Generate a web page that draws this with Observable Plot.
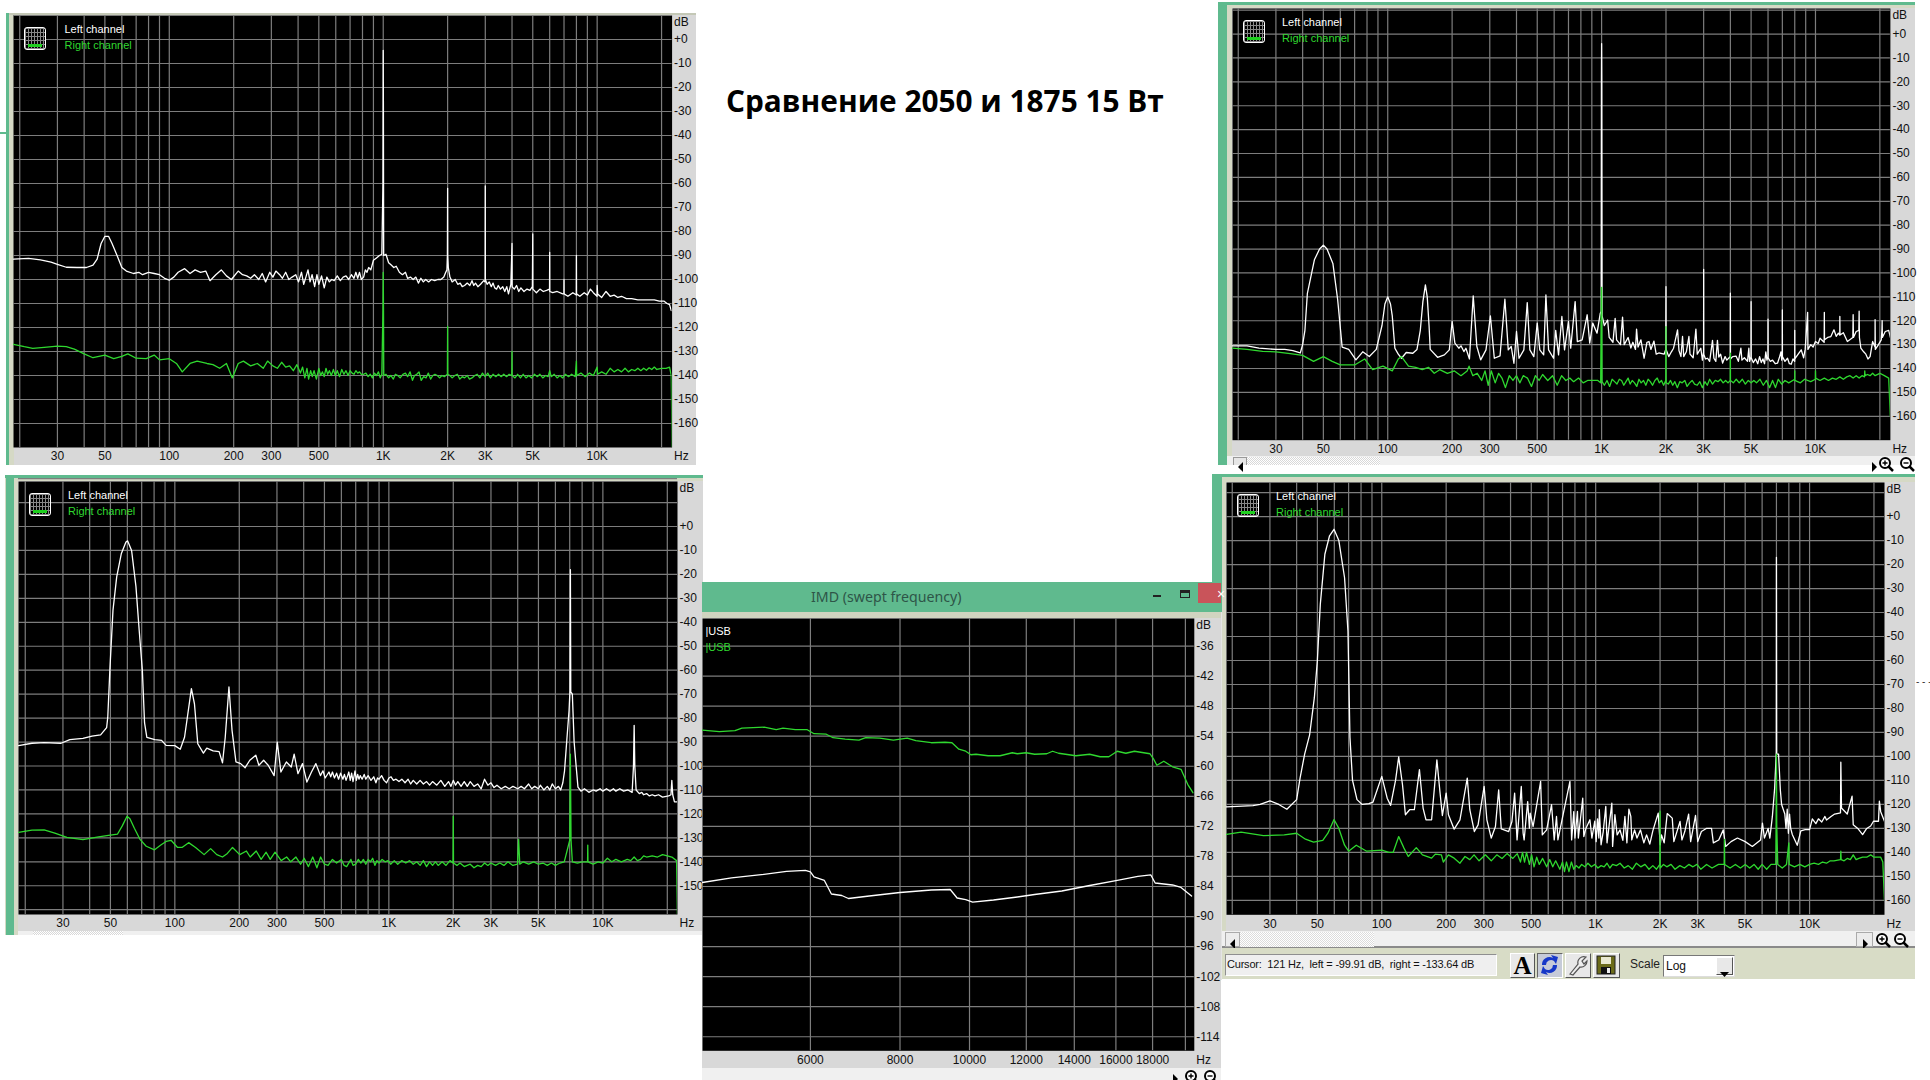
<!DOCTYPE html>
<html lang="ru">
<head>
<meta charset="utf-8">
<script src="https://cdn.jsdelivr.net/npm/d3@7"></script>
<script src="https://cdn.jsdelivr.net/npm/@observablehq/plot@0.6"></script>
<style>
html,body{margin:0;padding:0;background:#fff;}
#page{position:relative;width:1930px;height:1080px;overflow:hidden;background:#fff;font-family:"Liberation Sans",Arial,sans-serif;}
#page>*{position:absolute;}
svg{overflow:visible;}
</style>
</head>
<body>
<div id="page"></div>
<script>
// Spectrum tick labels and grid
const freqTicks = [30,50,100,200,300,500,1000,2000,3000,5000,10000];
const freqGrid = [20,30,40,50,60,70,80,90,100,200,300,400,500,600,700,800,900,1000,2000,3000,4000,5000,6000,7000,8000,9000,10000,20000];
const imdFreqTicks = [6000,8000,10000,12000,14000,16000,18000];
const imdFreqGrid = [6000,8000,10000,12000,14000,16000,18000,20000];
const dbTicks = [0,-10,-20,-30,-40,-50,-60,-70,-80,-90,-100,-110,-120,-130,-140,-150,-160];
const dbTicksBL = [0,-10,-20,-30,-40,-50,-60,-70,-80,-90,-100,-110,-120,-130,-140,-150];
const dbGrid = [20,10,0,-10,-20,-30,-40,-50,-60,-70,-80,-90,-100,-110,-120,-130,-140,-150,-160];
const imdDbTicks = [-36,-42,-48,-54,-60,-66,-72,-78,-84,-90,-96,-102,-108,-114];

// Series: flat lists of frequency (Hz), level (dB)
const tlLeft = [18.7,-91.5,22,-91.2,25,-91.8,28,-92.8,30,-93.7,33,-94.9,37,-95,41,-95,44,-94,46,-91.5,48,-85,50,-82,52,-82,54,-85,57,-90,60,-95,63,-96.5,68,-97.5,72,-97,75,-98,80,-97,85,-97.5,90,-98,95,-99.5,100,-100.3,105,-99,110,-97,118,-95.5,125,-97.5,132,-96,140,-97,148,-96.5,155,-100.5,165,-98,175,-96,185,-98.5,195,-100,210,-96.5,220,-98,230,-98.5,240,-99.5,250,-98,262,-100,272,-97.5,282,-101,295,-97,305,-99,315,-96.5,328,-98,338,-99.5,350,-97,362,-100,375,-99,390,-98,402,-101,415,-97,425,-102,435,-99,445,-96,455,-101,465,-98,478,-103,490,-98,500,-102,515,-98.5,530,-103.5,545,-99,560,-101,575,-100,590,-100.5,610,-98.5,630,-100.5,650,-99,670,-98.5,690,-100,710,-98,730,-99.5,745,-97,760,-99.5,775,-97,790,-100,810,-99,825,-96,840,-97,855,-95,875,-96,900,-92,930,-91,960,-90,985,-89.5,997,-60,1000,-4.5,1002,-28,1005,-90,1030,-89.5,1060,-93,1090,-94,1120,-95,1150,-94.5,1190,-97,1230,-98,1270,-97,1300,-99.5,1340,-99,1380,-100,1420,-99,1460,-101.5,1500,-99.5,1540,-101,1580,-100,1630,-101,1680,-100,1740,-100.5,1800,-100,1860,-100,1920,-99,1960,-97,1985,-96,1995,-90,2000,-62,2002,-90,2015,-95,2050,-99,2100,-101,2170,-100,2230,-102,2290,-101.5,2340,-103,2400,-102.5,2470,-101.5,2540,-102.5,2600,-100.5,2650,-102.5,2700,-101.5,2770,-103,2850,-102,2950,-100.5,2995,-101,3000,-61,3002,-100,3060,-102,3130,-101,3200,-103,3260,-101.5,3320,-103.5,3390,-104,3450,-102.5,3530,-104,3620,-103,3700,-105,3780,-103,3850,-106,3950,-102,4000,-85,4005,-103,4100,-104,4200,-102.5,4300,-105,4400,-103.5,4550,-105,4700,-104,4850,-104.5,4980,-103,5000,-81,5005,-104,5200,-105.5,5400,-104,5600,-105,5800,-104.5,5990,-104,6000,-88.7,6005,-105,6200,-105.5,6500,-105,6900,-106,6995,-106,7000,-100,7005,-106,7300,-107,7700,-105.5,7990,-106.5,8000,-90,8010,-106,8300,-107,8700,-105.5,9000,-106.5,9300,-104,9600,-105.5,9990,-107,10000,-102.5,10050,-106,10500,-107.5,11000,-105,11500,-107,12000,-106.5,12500,-107.5,13000,-107,13700,-108,14500,-108,15500,-108.5,16500,-108.5,17500,-108.5,18500,-108.5,19500,-109,20500,-109,21200,-110,21800,-110.5,22200,-113];
const tlRight = [18.7,-127,21,-128,23,-128.7,26,-128.3,30,-127.8,33,-128,36,-129,40,-131,44,-132.6,50,-131.5,55,-133,60,-132,64,-131,70,-132.8,78,-133,85,-131.5,90,-133.5,100,-133,108,-135,115,-138.5,125,-135,135,-134,150,-135,160,-135.5,172,-137,185,-135,197,-141,210,-135,222,-134,240,-136,258,-135,275,-137,288,-134,305,-136,320,-137,335,-134.5,350,-136.5,365,-136,380,-138,395,-135.5,410,-139,420,-136.5,430,-141,440,-137,448,-141.5,458,-138,466,-140.5,475,-138,487,-141.5,500,-137,510,-140,520,-138.5,530,-140.5,540,-137,550,-139.5,560,-138,572,-140,585,-137.5,597,-140,610,-138,625,-140.5,640,-137.5,655,-139.5,670,-138,685,-140,700,-138,715,-139,730,-139.5,745,-138,760,-139,775,-138.5,790,-139.5,810,-139.5,830,-139,850,-140.5,870,-139.5,890,-141,910,-139,930,-140,950,-138.5,968,-141,985,-139.5,997,-113,1000,-97,1003,-113,1006,-140,1030,-139.5,1060,-141,1085,-140,1115,-141.5,1140,-139.5,1170,-140,1200,-141,1235,-139.5,1270,-139,1300,-140.5,1335,-138.5,1370,-142,1400,-140,1435,-139.5,1470,-138.5,1505,-142,1545,-140.5,1585,-141,1625,-139,1665,-141.5,1705,-140,1745,-139.5,1790,-140,1835,-141,1880,-140,1930,-140.5,1995,-139.5,2000,-119.5,2003,-139.5,2050,-140,2100,-141,2160,-140,2220,-139.5,2280,-141.5,2340,-140.5,2400,-141,2470,-140,2530,-141.5,2600,-141,2680,-140,2750,-139.5,2830,-141,2910,-139,2995,-140.5,3080,-139,3170,-141,3260,-139.5,3360,-140.5,3460,-139.5,3560,-140.5,3660,-139.5,3770,-140.5,3880,-139.5,3990,-140,4000,-130,4005,-140,4130,-141,4250,-139.5,4380,-141,4510,-139.5,4650,-141,4790,-140,4940,-141,5090,-139.5,5250,-140.5,5400,-139.5,5570,-141,5740,-140,5900,-140.5,6000,-138,6100,-140.5,6300,-139.5,6500,-141,6700,-140,6900,-141,7100,-139.5,7350,-140.5,7600,-139.5,7900,-140.5,8000,-134,8020,-140,8400,-139,8800,-140.5,9200,-139,9600,-140,10000,-136.5,10050,-139.5,10500,-138.5,11000,-139.5,11500,-137,12000,-138.5,12500,-137.5,13000,-138.5,13500,-137,14000,-138.5,14500,-137.5,15000,-138,15500,-137,16000,-138,16500,-137,17000,-137.8,17500,-136.8,18000,-137.5,18500,-136.5,19000,-137.5,20000,-137,21000,-137,21800,-136.5,22200,-140,22390,-170];

const trLeft = [18.8,-130.5,22,-130.5,25,-131.5,30,-132,33,-132,36,-132.5,39,-133.5,40,-130,41,-124,42.1,-108.5,45.4,-94.5,48,-90,50,-88.4,52,-90,55.4,-96,58.3,-111,61.2,-131,65.7,-132,71,-136.4,76.4,-133,82,-135,88.4,-132,94,-122,97,-113,100,-110,103,-113,105,-118,108,-131.5,112,-134,116,-135.7,122,-133.3,131,-133.6,137,-132,142,-124,146,-112,150,-105,153,-110,156,-122,158,-132,171,-135.3,184,-134.3,194,-132.2,200,-120.3,206,-129.4,215,-131.5,220,-130.5,227,-132.9,232,-131.5,241,-136,251,-109.6,261,-130.8,272,-136.4,288,-132.2,302,-118,315,-135.7,335,-134.7,353,-111,366,-132.2,378,-130.8,389,-137.8,400,-124.5,411,-135.7,433,-132.2,449,-112.4,462,-132.2,482,-135,500,-121,514,-132.2,536,-134.3,549,-109.2,565,-132.2,596,-135.7,610,-124,629,-134.3,652,-118.2,671,-132.2,700,-120.3,717,-131.5,752,-112,770,-128.7,811,-128,856,-117.5,880,-129.4,909,-121,952,-125.2,985,-117,995,-116,998,-20,1000,-4,1002,-20,1005,-118,1030,-122,1067,-119.7,1085,-127,1130,-129,1157,-119,1175,-128,1225,-130,1253,-118.5,1275,-130,1330,-127,1370,-131.4,1400,-129,1440,-132,1457,-123.5,1480,-131,1527,-128,1580,-135.7,1630,-129,1665,-128.7,1700,-132,1757,-128.5,1800,-134,1851,-133.5,1960,-134,1995,-132,2000,-105.7,2002,-132,2060,-135,2120,-133,2170,-131.5,2265,-123.8,2300,-132.5,2350,-135,2390,-126.6,2420,-135,2490,-133,2560,-126.6,2590,-134,2680,-135.5,2760,-123.5,2800,-134,2910,-131.5,2960,-136.5,2998,-133,3000,-98.5,3002,-134,3060,-136,3130,-135.7,3200,-137,3300,-128.2,3350,-135.7,3420,-137,3480,-128.2,3530,-135.2,3600,-134,3680,-137.7,3780,-135,3850,-136.5,3995,-135,4000,-108.5,4004,-136,4100,-135,4250,-134.8,4360,-137,4480,-131.5,4530,-136.5,4650,-135.5,4810,-137,4880,-131.5,4920,-137,4995,-135,5000,-112,5005,-135.5,5120,-137.5,5250,-136,5370,-138,5480,-135,5580,-137.5,5680,-136,5780,-138,5860,-133,5930,-136.5,5995,-135,6000,-119.3,6005,-135.5,6150,-137,6300,-136.5,6480,-138,6650,-137.7,6800,-135,6900,-133,6950,-136.5,6995,-135,7000,-115.5,7005,-135,7200,-137,7400,-135.7,7550,-138,7700,-138.2,7850,-136,7995,-137,8000,-124,8005,-136,8300,-134,8580,-132.2,8800,-135.5,8950,-132,9190,-116.5,9220,-132,9500,-130,9750,-131,10000,-128.7,10300,-129.5,10500,-127.3,10980,-129,11000,-116.5,11020,-128,11400,-127,11800,-126.6,12200,-123.8,12500,-126.5,12800,-125.2,12990,-126,13000,-118.2,13020,-126,13500,-125,14100,-128.7,14950,-127,15000,-117.5,15050,-127,15500,-124.5,15950,-124,16000,-116,16050,-127,16300,-131.5,16800,-133,17200,-134,17600,-136,18000,-135,18500,-128.7,18990,-131,19000,-119.5,19050,-132,19700,-130,20300,-128,20450,-124,20500,-120,20550,-127,21200,-124.5,22000,-124,22390,-127];
const trRight = [18.8,-131.5,22,-132,26,-132.8,30,-133,35,-133.8,40,-134.5,45,-137,50,-135,55,-137,60,-138.5,70,-138.5,78,-136,85,-140.5,95,-139,105,-141,112,-136,116,-135,125,-139,135,-139.5,145,-140.5,155,-139.5,165,-142,175,-140.5,190,-142,205,-141,220,-143,235,-141,240,-139,250,-143,262,-142,275,-145,285,-141,295,-147,305,-141,318,-146,330,-142,342,-144,355,-148,370,-143,385,-145,400,-143,415,-146,430,-143,450,-144,470,-147.5,490,-143,510,-145,530,-142.5,560,-145,590,-143,620,-147,650,-143,680,-145,710,-144,740,-145.5,780,-144,820,-146,860,-145,920,-145,960,-145,990,-146,995,-119,998,-106,1000,-106,1003,-119,1005,-145.5,1030,-147,1060,-145,1090,-147.5,1120,-144.5,1150,-145.5,1180,-146.5,1210,-144.5,1240,-145,1270,-147,1300,-145.5,1330,-144,1360,-146.5,1390,-145,1425,-146,1460,-147.5,1495,-144.5,1530,-146,1570,-145,1610,-147,1650,-144.5,1690,-145.5,1730,-147,1775,-145,1820,-144,1860,-146,1905,-145,1950,-147,1995,-145,2000,-122.5,2003,-146,2050,-146.5,2100,-145,2150,-147,2200,-145.5,2260,-148,2320,-145.5,2380,-146,2450,-145,2510,-147.5,2580,-146,2650,-145,2720,-146.5,2800,-147,2880,-145.5,2960,-148,3040,-145.5,3120,-147,3200,-144.5,3300,-146.5,3400,-145,3500,-145.5,3600,-144.5,3700,-146,3800,-145,3900,-146,3995,-145,4000,-133.6,4004,-145,4130,-146,4260,-144.5,4400,-146,4550,-144.5,4700,-146.5,4850,-145,5000,-146,5150,-145,5300,-146,5500,-144.5,5700,-147,5900,-145,6100,-148,6300,-145,6500,-148,6700,-144.5,6950,-146.5,7200,-145,7500,-146,8000,-144.5,8003,-141,8006,-145,8500,-146,8900,-144.5,9500,-145.5,9990,-144.5,10000,-141,10020,-144,10500,-145,11000,-144,11500,-145,12000,-144,12500,-144.5,13000,-143.5,13500,-144.5,14000,-143.5,14500,-143,15000,-144,15500,-143,16000,-144,16500,-143,16950,-143.5,17000,-141,17050,-143,17500,-142.5,18000,-143,18500,-142,19000,-143,20000,-142,21000,-143,22000,-144,22380,-160];

const blLeft = [18.6,-91.5,21.5,-90.5,24.5,-90.2,29.4,-90.5,32.3,-89,37.2,-88.5,41,-87.5,45,-87,48,-84,48.6,-79.6,49.7,-60,51.4,-35,53.5,-21,56.2,-11.4,59.1,-6.5,60.2,-6,62.8,-10,65.8,-25,68.1,-43,70.5,-60,72.2,-82,74,-88,80.6,-89,86.7,-89.3,91,-91.4,100,-91.5,106,-93,111,-88,119.5,-67.7,123.5,-74,128,-90.7,136,-94.6,141,-92.5,151,-93.7,161,-94,167,-98.7,172,-88,179,-67,185,-85,193,-98.3,203,-99,213,-100.7,224,-97.6,239,-95.5,247,-99.7,260,-97.6,273,-99.7,291,-104,301,-90,313,-102.5,332,-98.3,350,-100.4,361,-95,376,-103.2,395,-99,414,-106.7,435,-102.5,456,-99,479,-104,492,-102,504,-105,525,-102.5,535,-104.5,545,-102.5,557,-105,570,-103,582,-105.5,595,-103,610,-105.5,620,-103.5,631,-106,642,-104,650,-102.5,660,-106,670,-103,680,-106.5,695,-102,705,-106,715,-103.5,725,-105.5,735,-104,750,-105.5,767,-103.5,780,-105.5,800,-104,825,-106,850,-104.5,870,-107,885,-105,900,-105.5,925,-104,950,-106,976,-107,1000,-105,1024,-104.5,1050,-106,1080,-105.5,1115,-106.5,1150,-105.5,1190,-107,1230,-105.5,1265,-107.5,1300,-106,1350,-107.5,1400,-106,1450,-107.5,1500,-106.5,1550,-108,1600,-106.5,1675,-108,1750,-106,1825,-108.5,1900,-106.5,1950,-108.5,2000,-106,2050,-108,2100,-106.5,2175,-108.5,2250,-106.5,2325,-108.5,2400,-106.5,2500,-108.5,2600,-107.5,2700,-109.5,2800,-105.5,2900,-108,3000,-107,3100,-109,3200,-108,3350,-109.5,3500,-108.5,3650,-109.5,3800,-108.5,4000,-109.5,4150,-108.5,4300,-109.5,4500,-107.5,4650,-109.5,4800,-108.5,5000,-109.5,5100,-108,5300,-110,5500,-108.5,5650,-110,5800,-107.5,6000,-109.5,6200,-108.5,6350,-110,6500,-107,6620,-102,6800,-88,6950,-76.8,7020,-68.4,7050,-18,7080,-69,7200,-70,7340,-90,7500,-100,7650,-108.8,7900,-110.5,8200,-109.5,8600,-111,9000,-110,9300,-110.5,9700,-109.5,10000,-110.5,10400,-109.5,10800,-110.5,11200,-109.5,11500,-110.5,12000,-109.5,12500,-110.5,13100,-110,13700,-111,13900,-100,14000,-83,14100,-100,14300,-110,14800,-111.5,15200,-111,15500,-112,16000,-111.5,16500,-112.5,17000,-112,17500,-112.5,18200,-112,19000,-113,20300,-112.5,20800,-112,21000,-106,21200,-112,21600,-115,22300,-115];
const blRight = [18.6,-127.7,21.5,-126.8,24.5,-126.7,27.5,-128,31.3,-129.8,37.2,-130.7,44,-129.6,49,-129,54,-128.4,56.8,-125,59.8,-121,61.7,-122,64.7,-126,68.6,-130.5,73.5,-133.5,80.4,-135,86,-133,91,-131.5,96,-131,103,-134,108,-134,116,-132,125,-134,137,-137,147,-134.5,157,-137,167,-138,176,-136.5,186,-134,201,-137,216,-135.5,225,-138,240,-135.5,253,-139,267,-136,279,-139,294,-136,314,-139.5,333,-138,348,-140,368,-138,387,-141,402,-138.5,421,-142,441,-138,461,-142.5,480,-138,500,-141,520,-141.5,545,-139,570,-140.5,600,-139,618,-141.5,635,-142,665,-139,680,-141.5,700,-141,720,-139,740,-140.5,760,-139,780,-141,800,-139,820,-140,840,-138.5,860,-141.5,880,-139.5,900,-140.5,930,-139,960,-140,990,-139.5,1020,-141,1060,-139.5,1100,-141,1150,-139.5,1200,-140.5,1250,-139.5,1300,-141,1350,-140,1400,-141.5,1450,-139.5,1500,-142,1550,-140,1600,-141.5,1650,-140,1700,-141.5,1775,-140,1850,-141.5,1930,-139.5,1995,-140.5,2000,-121,2005,-140.5,2080,-141.5,2150,-140.5,2250,-142,2400,-141,2500,-142.5,2600,-141.5,2700,-142,2800,-140.5,2900,-141.5,3000,-140.5,3150,-141.5,3300,-140.5,3450,-141.5,3600,-140,3800,-141.5,3990,-141,4040,-130.6,4090,-141,4250,-140,4500,-141,4750,-140,5000,-141,5250,-140.5,5500,-141.5,5750,-140.5,6000,-141.5,6300,-140.5,6600,-140,7000,-131,7050,-95,7100,-131,7200,-140,7600,-140.5,8000,-140,8480,-140,8500,-133,8520,-140,9000,-141,9500,-140,10000,-140.5,10500,-138.5,11000,-140,11500,-139,12200,-140,13000,-139,13500,-139.5,14000,-138,14500,-139.5,15000,-139,15500,-137.5,16000,-138,17000,-137.5,18000,-138,19000,-137,20000,-137.5,21000,-138,22100,-139.5,22300,-162];

const brLeft = [18.8,-121,25,-120.5,27,-120,30,-118.5,33,-120,36,-122,40,-118,41.5,-109,43.6,-99,46,-91,48.4,-75.5,50,-60,51.6,-36.6,54.2,-15.7,57,-8,59.8,-5.3,63,-10,67,-25.5,69.5,-47.7,71,-92,73,-110,76.6,-118,81,-120,87,-119.7,91,-119,100,-108.3,106,-117.4,110,-120.4,116,-110,120,-100.2,125,-111.8,129,-124.3,135,-122.2,142,-122.2,150,-105.5,156,-121.5,161,-126.4,171,-126.4,181,-101.4,187,-114.6,192,-124.6,200,-115.3,205,-124.3,218,-130.3,232,-126.4,238,-120.8,251,-109,258,-122.2,271,-131.3,282,-128.5,301,-112.5,310,-126.4,325,-134,340,-129.2,352,-113.9,362,-130.2,392,-131.3,406,-127.1,418,-115.3,429,-134.8,449,-112.5,458,-132,463,-134.8,481,-118.8,490,-129.9,494,-123.6,510,-129.2,553,-110.4,563,-132.7,590,-130.6,622,-120.1,640,-134.8,656,-125,666,-134.8,758,-110.4,772,-134.8,790,-123,800,-134,822,-122.9,830,-134,870,-117.4,880,-133.4,900,-130,940,-126.4,960,-134,990,-127,1005,-135.5,1020,-126,1035,-134,1040,-122.2,1060,-136.8,1085,-131.3,1115,-120.8,1130,-136,1190,-119.5,1200,-137.5,1230,-124.3,1260,-132.7,1300,-130.6,1340,-135,1370,-125,1400,-136,1430,-122,1460,-125,1475,-134.8,1520,-130.6,1560,-134,1620,-130.6,1680,-136,1730,-132.7,1790,-136.5,1850,-131,1960,-123.6,2003,-136.8,2030,-132.7,2090,-136,2160,-123.8,2280,-125.7,2320,-135.5,2480,-127.1,2530,-134.8,2610,-131.3,2720,-124,2780,-135.5,2930,-124.6,3000,-135.5,3120,-131.3,3290,-130,3480,-130,3550,-136,3760,-134.8,3950,-130.6,4050,-137.5,4294,-135.5,4600,-134,5000,-135.5,5400,-137.5,5900,-134.8,6020,-127.8,6150,-134,6400,-130,6520,-134,6700,-125,6870,-113,6990,-98,7000,-17,7020,-99,7160,-99,7300,-114,7400,-120,7660,-124,7760,-130,7860,-122,7960,-132,8060,-124,8160,-130,8300,-132.5,8760,-137,9100,-131,9540,-130.5,10000,-130.5,10300,-126,10700,-128,11000,-126,11400,-127.3,11800,-125,12000,-126.5,12600,-125,13100,-124,13950,-123.5,14000,-102.4,14100,-121.5,15000,-124,15800,-116.5,16000,-128.5,16800,-130,17700,-132.6,18500,-130,19300,-129,19900,-127,21000,-127,21200,-118.6,21500,-123,22390,-127];
const brRight = [18.8,-132.5,22,-131.5,28,-133,35,-132.7,40,-132,44,-134.5,48,-135.7,53,-135,56,-132,59.8,-126.3,63,-130,67,-137,70,-139.5,76,-137,85,-139.5,100,-139,108,-140,113,-140,120,-133.4,127,-138.2,133,-141.7,145,-138,155,-141,171,-142.4,178,-140.7,190,-141,194,-144,205,-141,218,-142.4,232,-144.5,245,-141.7,258,-143,270,-141,285,-143.5,305,-141,325,-143.5,345,-141,365,-142.5,385,-140.5,410,-142.5,430,-140.5,445,-144,455,-140,465,-144,475,-140,490,-145,502,-141,515,-146,530,-142,545,-145,565,-142.5,590,-146,610,-143,630,-146,650,-143.5,680,-147,700,-144,715,-148,730,-144,750,-148,770,-144,790,-147,810,-145.5,835,-146.5,860,-145,890,-146,920,-144.5,955,-146,990,-145,1025,-146.5,1060,-145.5,1095,-146,1130,-144.5,1165,-146.5,1200,-145,1250,-145.5,1300,-144.5,1360,-146.5,1420,-145.5,1485,-147,1550,-144.5,1625,-146,1700,-145,1775,-147,1850,-145.5,1925,-147,1995,-145,2000,-122.8,2003,-146.5,2075,-145,2150,-146,2250,-145,2350,-147,2475,-145.5,2600,-146.5,2725,-145,2850,-146,2975,-145,3100,-147,3300,-145,3500,-146.5,3750,-145,3990,-145,4000,-134.6,4010,-145,4250,-146.5,4500,-145,4750,-146.5,5000,-145,5250,-146.5,5500,-145,5750,-147,6000,-145,6300,-147,6600,-145,6950,-145,6980,-128,7000,-99,7020,-128,7100,-145,7450,-146.5,7800,-145,8000,-136,8030,-145,8500,-146,9000,-145,9500,-146,10000,-145,10500,-144.5,11000,-145,11500,-144,12000,-144.5,12500,-143.5,13000,-143.5,13950,-143,14000,-139.5,14050,-143,14500,-143.5,15000,-142.5,15500,-143,16000,-141,16500,-143,17000,-142.5,17700,-142,18500,-142,19300,-141,20000,-142,21500,-142,22000,-144,22390,-160];

const imdRight = [4240,-52.8,4478,-53.1,4710,-52.9,4815,-52.4,5172,-52.2,5376,-52.7,5495,-52.4,5715,-52.7,5940,-52.7,6070,-53.5,6314,-53.6,6452,-54.3,6708,-54.6,7012,-54.8,7166,-54.3,7495,-54.4,7832,-54.8,8187,-54.4,8416,-54.9,8845,-55.3,9245,-55.2,9452,-55.3,9663,-56.6,9879,-57,10044,-57.7,10212,-57.6,10615,-57.9,11033,-57.9,11471,-57.3,11660,-57.5,11990,-57.3,12325,-57.6,12814,-57.5,13056,-57,13310,-57.4,14070,-57.9,14710,-57.6,15210,-58.1,15640,-58.1,16070,-57,16520,-57.4,16980,-57,17850,-57.5,18050,-58.5,18250,-59.8,18660,-59,19190,-60.1,19720,-60.6,20150,-63.6,20500,-65.3];
const imdLeft = [4240,-83.2,4657,-82.3,5087,-81.7,5558,-81,5905,-80.8,6000,-81.1,6070,-82.1,6275,-82.8,6418,-85.5,6635,-85.8,6780,-86.4,7248,-85.9,8000,-85.2,8845,-84.7,9400,-84.6,9610,-86.3,9879,-86.6,10100,-87.1,10800,-86.7,11660,-86.1,12325,-85.6,13450,-84.9,14710,-83.8,16070,-82.8,17170,-82,17900,-81.7,18150,-83.3,19190,-83.7,19720,-84.2,20400,-85.9];

const WHITE="#ffffff", GREEN="#2fd82f", GRID="#7d7d7d";
const page=document.getElementById("page");
const toPairs=a=>d3.range(0,a.length,2).map(i=>[a[i],a[i+1]]);
const fmtHz=f=>f>=1000?(f/1000)+"K":String(f);
const fmtDb=d=>d===0?"+0":String(d);

function box(x,y,w,h,style="",html=""){
  const e=document.createElement("div");
  e.style.cssText=`left:${x}px;top:${y}px;width:${w}px;height:${h}px;box-sizing:border-box;${style}`;
  e.innerHTML=html;page.appendChild(e);return e;
}
function label(x,y,text,style=""){
  const e=document.createElement("div");
  e.style.cssText=`left:${x}px;top:${y}px;white-space:pre;${style}`;
  e.textContent=text;page.appendChild(e);return e;
}
function place(node,x,y){node.style.left=x+"px";node.style.top=y+"px";node.style.background="transparent";page.appendChild(node);}

function panel(o){
  const marks=[
    Plot.frame({fill:"black",stroke:"none"}),
    Plot.gridX(o.gridX,{stroke:GRID,strokeOpacity:1,strokeWidth:1.2}),
    Plot.gridY(o.gridY,{stroke:GRID,strokeOpacity:1,strokeWidth:1.2}),
    Plot.line(toPairs(o.left),{x:d=>d[0],y:d=>d[1],stroke:WHITE,strokeWidth:o.sw||1.3,curve:"linear",clip:true}),
    Plot.line(toPairs(o.right),{x:d=>d[0],y:d=>d[1],stroke:GREEN,strokeWidth:o.sw||1.3,curve:"linear",clip:true}),
    Plot.text(o.xTicks,{x:d=>d,frameAnchor:"bottom",text:o.xFmt,lineAnchor:"middle",dy:9,fill:"#111",fontSize:12}),
    Plot.axisY({ticks:o.yTicks,tickFormat:o.yFmt,tickSize:0,tickPadding:2,anchor:"right",fill:"#111",fontSize:12,label:null}),
    Plot.text(["dB"],{frameAnchor:"top-right",textAnchor:"start",lineAnchor:"middle",dx:2,dy:7,fill:"#111",fontSize:12}),
    Plot.text(["Hz"],{frameAnchor:"bottom-right",textAnchor:"start",lineAnchor:"middle",dx:2,dy:9,fill:"#111",fontSize:12}),
    Plot.text([o.leftName],{frameAnchor:"top-left",textAnchor:"start",lineAnchor:"middle",dx:o.ldx,dy:o.ldy1,fill:WHITE,fontSize:11}),
    Plot.text([o.rightName],{frameAnchor:"top-left",textAnchor:"start",lineAnchor:"middle",dx:o.ldx,dy:o.ldy2,fill:GREEN,fontSize:11})
  ];
  const mr=o.mr||24, mb=o.mb||18;
  const node=Plot.plot({
    width:o.w+mr,height:o.h+mb,marginLeft:0,marginRight:mr,marginTop:0,marginBottom:mb,
    style:{background:"transparent",fontFamily:'"Liberation Sans",Arial,sans-serif',overflow:"visible"},
    x:{type:"log",domain:o.xd,axis:null},y:{domain:o.yd},marks});
  place(node,o.x,o.y);
  if(o.icon){
    box(o.x+11,o.y+12,22,23,"border:1.5px solid #fff;border-radius:3px;background:"+
      "linear-gradient(#1fd01f,#1fd01f) 3px 16px/14px 3px no-repeat,"+
      "repeating-linear-gradient(90deg,#888 0 1px,transparent 1px 3px),"+
      "repeating-linear-gradient(0deg,#888 0 1px,#000 1px 4px);");
  }
}

const BG="#d8d8d8", EDGE="#d5d9c5", MINT="#5fba8e";
const specCommon={gridX:freqGrid,xTicks:freqTicks,xFmt:fmtHz,yFmt:fmtDb,icon:true,leftName:"Left channel",rightName:"Right channel",ldx:49.5,ldy1:14,ldy2:30};

function zoomIcon(x,y,minus){
  return box(x,y,16,16,"",`<svg width="16" height="16"><circle cx="7" cy="7" r="5" fill="#fff" stroke="#000" stroke-width="2"/><path d="M10 10L15 15" stroke="#000" stroke-width="2.5"/><path d="M4.5 7H9.5${minus?"":"M7 4.5V9.5"}" stroke="#000" stroke-width="1.4"/></svg>`);
}
function arrow(x,y,dir){
  return box(x,y,8,10,"",`<svg width="8" height="10"><path d="${dir<0?"M6 0V10L1 5Z":"M2 0V10L7 5Z"}" fill="#000"/></svg>`);
}

// top-left window
box(0,132,6,2,"background:"+MINT);
box(6,13,690,452,"background:"+BG);
box(6,13,8,452,"background:"+EDGE);
box(6,13,3,452,"background:"+MINT);
box(9,13,687,2,"background:#c4c8b6");
panel({...specCommon,ldx:51,x:13.4,y:15,w:658.6,h:432,xd:[18.7,22400],yd:[-170,10],left:tlLeft,right:tlRight,gridY:dbGrid.slice(1),yTicks:dbTicks});

// top-right window
box(1218,2,697,463,"background:"+BG);
box(1218,2,14,463,"background:"+EDGE);
box(1218,2,9,463,"background:"+MINT);
box(1218,2,697,3,"background:"+MINT);
box(1227,5,688,3,"background:"+EDGE);
box(1227,456,688,9,"background:#f0f0f0");
box(1233,457,14,8,"background:#e6e6e6;border:1px solid #999;border-bottom:none");
arrow(1237,458,-1);
box(1247,457,133,8,"background:repeating-conic-gradient(#fff 0 25%,#d8d8d8 0 50%) 0 0/2px 2px");
panel({...specCommon,x:1231.6,y:8.3,w:657.9,h:431.7,xd:[18.8,22400],yd:[-170,10.7],left:trLeft,right:trRight,gridY:dbGrid.slice(1),yTicks:dbTicks});
arrow(1870,458,1);zoomIcon(1878,456,false);zoomIcon(1899,456,true);

// bottom-left window
box(5,475,698,460,"background:"+BG);
box(5,475,13,460,"background:"+EDGE);
box(6,475,8,460,"background:"+MINT);
box(5,475,698,3,"background:"+MINT);
box(14,478,689,3,"background:"+EDGE);
box(18,931,685,4,"background:#f0f0f0");
box(33,931,90,4,"background:repeating-conic-gradient(#fff 0 25%,#d8d8d8 0 50%) 0 0/2px 2px");
panel({...specCommon,x:18,y:481,w:659,h:433,xd:[18.6,22320],yd:[-162,18.8],left:blLeft,right:blRight,gridY:dbGrid,yTicks:dbTicksBL});

// bottom-right window
box(1212,474,703,505,"background:"+BG);
box(1212,474,14,505,"background:"+EDGE);
box(1212,474,10,506,"background:"+MINT);
box(1212,474,703,3,"background:"+MINT);
box(1222,477,693,5,"background:"+EDGE);
box(1212,612,10,368,"background:#e4e4e4");
box(1222,931,693,17,"background:#f0f0f0;border-bottom:2px solid #8a8a8a");
box(1225,932,15,15,"background:#ececec;border:1px solid #aaa");
arrow(1229,935,-1);
box(1240,932,134,15,"background:repeating-conic-gradient(#fff 0 25%,#dcdcdc 0 50%) 0 0/2px 2px");
box(1856,932,17,15,"background:#ececec;border:1px solid #aaa");
arrow(1861,935,1);zoomIcon(1875,932,false);zoomIcon(1893,932,true);
box(1222,948,693,31,"background:#d8dcc6");
box(1225,954,272,22,"background:#efefef;border:1px solid #8f8f8f;border-right-color:#fff;border-bottom-color:#fff");
label(1227,958,"Cursor:  121 Hz,  left = -99.91 dB,  right = -133.64 dB","font-size:11px;letter-spacing:-0.2px;color:#111");
const btn="background:#e8e8e8;border:1.5px solid;border-color:#fff #555 #555 #fff;";
box(1510,953,25,25,btn+"text-align:center;font:bold 25px/23px 'Liberation Serif',serif;color:#000","A");
box(1537,953,26,25,"background:#c6cbd8;border:1.5px solid;border-color:#666 #fff #fff #666;",`<svg width="23" height="22"><path d="M4 11A7.5 7.5 0 0 1 15 4L13 1L20 3L18 10L16 7A5 5 0 0 0 8 11Z" fill="#1638c8"/><path d="M19 11A7.5 7.5 0 0 1 8 18L10 21L3 19L5 12L7 15A5 5 0 0 0 15 11Z" fill="#1638c8"/></svg>`);
box(1565,953,26,25,btn,`<svg width="23" height="22"><path d="M4 20L12 10A6 6 0 0 1 20 3L16 7L18 10L21 7A6 6 0 0 1 14 13L7 21Z" fill="#eee" stroke="#555" stroke-width="1.2"/></svg>`);
box(1593,953,27,25,btn,`<svg width="24" height="22"><rect x="3" y="2" width="18" height="18" fill="#6b6b1a" stroke="#222"/><rect x="7" y="3" width="10" height="7" fill="#e8e8d0"/><rect x="7" y="13" width="10" height="7" fill="#111"/><rect x="13" y="14" width="3" height="5" fill="#eee"/></svg>`);
label(1630,957,"Scale","font-size:12px;color:#222");
box(1663,955,72,22,"background:#fff;border:1px solid #777;border-right-color:#ddd;border-bottom-color:#ddd");
label(1666,959,"Log","font-size:12px;color:#111");
box(1716,957,17,18,btn);
box(1720,963,9,5,"",`<svg width="9" height="5"><path d="M0 0H9L4.5 5Z" fill="#000"/></svg>`);
panel({...specCommon,x:1225.6,y:481.7,w:658,h:432.3,xd:[18.8,22400],yd:[-166,14.2],left:brLeft,right:brRight,gridY:dbGrid.slice(1),yTicks:dbTicks,mb:17});
label(1916,676,"- - -","font-size:10px;color:#333");
label(1212,970,"2","font-size:12px;color:#222");

// IMD window
box(702,582,519,498,"background:"+BG);
box(702,582,519,31,"background:"+MINT);
box(702,612,519,6,"background:#d0d4c0");
label(811,587,"IMD (swept frequency)","font:14.2px 'Noto Sans',sans-serif;color:#2e5548");
box(1153,595,8,2,"background:#222");
box(1180,590,10,8,"border:1.5px solid #222;border-top-width:3px");
box(1198,583,23,20,"background:#c9545a");
label(1217,586,"×","font-size:14px;color:#fff");
box(702,1068,519,12,"background:#f0f0f0");
arrow(1171,1070,1);zoomIcon(1184,1069,false);zoomIcon(1203,1069,true);
panel({x:702,y:617.7,w:491.8,h:432.3,xd:[4243,20580],yd:[-116.8,-30.5],gridX:imdFreqGrid,gridY:imdDbTicks,xTicks:imdFreqTicks,xFmt:d=>String(d),yTicks:imdDbTicks,yFmt:String,left:imdLeft,right:imdRight,leftName:"|USB",rightName:"|USB",ldx:3,ldy1:13,ldy2:29,mr:27,mb:18});

// title
label(726,80,"Сравнение 2050 и 1875 15 Вт","font:bold 29.8px 'Open Sans',sans-serif;color:#000");
</script>
</body>
</html>
